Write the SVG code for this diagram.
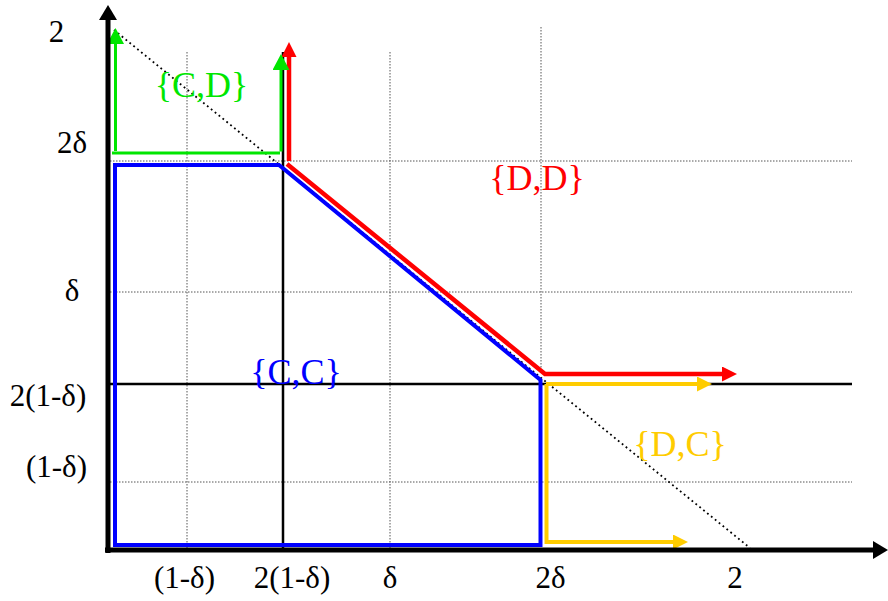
<svg xmlns="http://www.w3.org/2000/svg" width="888" height="601" viewBox="0 0 888 601">
<style>
  text { font-family: "Liberation Serif", "Times New Roman", serif; }
  .ax { font-size: 31px; fill: #000; text-anchor: middle; }
  .lbl { font-size: 36px; text-anchor: middle; }
  .grid { stroke: #555; stroke-width: 1; stroke-dasharray: 1.5 1.5; fill: none; }
  .solid { stroke: #000; stroke-width: 2.5; fill: none; }
  .axis { stroke: #000; stroke-width: 5; fill: none; }
  .diag { stroke: #000; stroke-width: 1.8; stroke-dasharray: 1.8 3.2; fill: none; }
  .blue { stroke: #0000FF; stroke-width: 4; fill: none; stroke-linejoin: miter; }
  .red { stroke: #FF0000; stroke-width: 4.5; fill: none; }
  .green { stroke: #00E600; stroke-width: 3; fill: none; }
  .yellow { stroke: #FFCC00; stroke-width: 4; fill: none; }
</style>
<defs>
  <marker id="ahBlack" markerUnits="userSpaceOnUse" markerWidth="15" markerHeight="18" refX="0" refY="9" orient="auto">
    <path d="M0,0 L15,9 L0,18 Z" fill="#000"/>
  </marker>
  <marker id="ahRed" markerUnits="userSpaceOnUse" markerWidth="15" markerHeight="15" refX="0" refY="7.5" orient="auto">
    <path d="M0,0 L15,7.5 L0,15 Z" fill="#FF0000"/>
  </marker>
  <marker id="ahYellow" markerUnits="userSpaceOnUse" markerWidth="15" markerHeight="15" refX="0" refY="7.5" orient="auto">
    <path d="M0,0 L15,7.5 L0,15 Z" fill="#FFCC00"/>
  </marker>
  <marker id="ahGreen" markerUnits="userSpaceOnUse" markerWidth="16" markerHeight="17" refX="0" refY="8.5" orient="auto">
    <path d="M0,0 L16,8.5 L0,17 Z" fill="#00E600"/>
  </marker>
</defs>
<rect width="888" height="601" fill="#fff"/>

<g id="grid">
  <line class="grid" x1="110" y1="161" x2="852" y2="161"/>
  <line class="grid" x1="110" y1="292" x2="852" y2="292"/>
  <line class="grid" x1="110" y1="482" x2="852" y2="482"/>
  <line class="grid" x1="187" y1="52" x2="187" y2="550"/>
  <line class="grid" x1="390" y1="52" x2="390" y2="550"/>
  <line class="grid" x1="541" y1="27" x2="541" y2="370"/>
  <line class="solid" x1="108" y1="384" x2="852" y2="384"/>
  <line class="solid" x1="283" y1="52" x2="283" y2="550"/>
  <line class="diag" x1="114" y1="30" x2="750" y2="548"/>
</g>

<g id="regions">
  <path id="cc-region" class="blue" d="M115,165 L279,165 L540.5,380 L540.5,545 L115,545 Z"/>
  <g id="dd-region">
    <path class="red" d="M289,161 L289,57" marker-end="url(#ahRed)"/>
    <path class="red" d="M287,164 L545,374 L722,374" marker-end="url(#ahRed)"/>
  </g>
  <g id="cd-region">
    <path class="green" d="M115.5,151 L115.5,44" marker-end="url(#ahGreen)"/>
    <path class="green" d="M112,153 L280,153"/>
    <path class="green" d="M281,151.5 L281,70" marker-end="url(#ahGreen)"/>
  </g>
  <g id="dc-region">
    <path class="yellow" d="M546.5,384 L546.5,542 L673,542" marker-end="url(#ahYellow)"/>
    <path class="yellow" d="M546,384 L697,384" marker-end="url(#ahYellow)"/>
  </g>
</g>

<g id="axes">
  <line class="axis" x1="108" y1="553" x2="108" y2="20" marker-end="url(#ahBlack)"/>
  <line class="axis" x1="105" y1="550" x2="873" y2="550" marker-end="url(#ahBlack)"/>
</g>

<g id="y-labels">
  <text class="ax" x="56.5" y="42">2</text>
  <text class="ax" x="72" y="153">2δ</text>
  <text class="ax" x="72" y="301">δ</text>
  <text class="ax" x="48" y="406">2(1-δ)</text>
  <text class="ax" x="56.5" y="477">(1-δ)</text>
</g>
<g id="x-labels">
  <text class="ax" x="184.5" y="588">(1-δ)</text>
  <text class="ax" x="292" y="588">2(1-δ)</text>
  <text class="ax" x="390" y="588">δ</text>
  <text class="ax" x="550.5" y="588">2δ</text>
  <text class="ax" x="735" y="588">2</text>
</g>
<g id="region-labels">
  <text class="lbl" x="201.5" y="97" fill="#00E600">{C,D}</text>
  <text class="lbl" x="537" y="190" fill="#FF0000">{D,D}</text>
  <text class="lbl" x="296" y="384" fill="#0000FF">{C,C}</text>
  <text class="lbl" x="680" y="456" fill="#FFCC00">{D,C}</text>
</g>
</svg>
